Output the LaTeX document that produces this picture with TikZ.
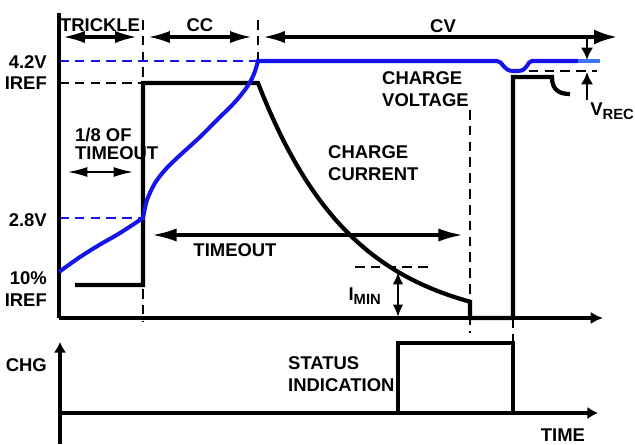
\documentclass[tikz,border=0pt]{standalone}
\usepackage{fontspec}
\setmainfont{Liberation Sans}
\usetikzlibrary{arrows.meta}
\definecolor{cvblue}{RGB}{20,20,235}
\definecolor{recblue}{RGB}{60,120,245}
\newcommand{\subtag}[1]{\raisebox{-0.22em}{\fontsize{8.4}{9}\selectfont #1}}

\tikzset{
  axis/.style={line width=2pt},
  wave/.style={line width=2.4pt},
  vcurve/.style={cvblue, line width=2.3pt},
  guide/.style={line width=1pt, dash pattern=on 5.5pt off 3.5pt},
  level/.style={line width=1.3pt, dash pattern=on 5.5pt off 3.5pt},
  span/.style={line width=1.8pt, {Latex[length=12.5pt,width=7pt]}-{Latex[length=12.5pt,width=7pt]}},
  longspan/.style={line width=1.8pt, {Latex[length=14pt,width=7.5pt]}-{Latex[length=14pt,width=7.5pt]}},
  tick/.style={line width=1.4pt, -{Latex[length=7pt,width=7pt]}},
}

\begin{document}
\begin{tikzpicture}[font=\fontsize{10.5}{12.5}\selectfont\bfseries]
  \useasboundingbox (-1.18,-2.52) rectangle (11.52,6.36);

  % phase borders
  \draw[guide] (1.68,5.96) -- (1.68,-0.08);
  \draw[guide] (3.98,5.96) -- (3.98,5.14);
  \draw[guide] (8.22,4.16) -- (8.22,-0.3);
  \draw[guide] (9.08,0) -- (9.08,-0.5);

  % phases
  \draw[span] (0.08,5.62) -- (1.56,5.62);
  \draw[span] (1.78,5.62) -- (3.86,5.62);
  \draw[line width=1.8pt, {Latex[length=12.5pt,width=7pt]}-{Latex[length=13pt,width=8.5pt]}] (4.08,5.62) -- (11.16,5.62);
  \node (trickle) at (0.82,5.86) {TRICKLE};
  \node (cc) at (2.82,5.86) {CC};
  \node (cv) at (7.68,5.84) {CV};

  % levels
  \draw[level, cvblue] (0,5.14) -- (3.98,5.14);
  \draw[level] (0,4.7) -- (1.68,4.7);
  \draw[level, cvblue] (0,2.0) -- (1.68,2.0);
  \draw[level] (5.92,1.02) -- (7.42,1.02);
  \draw[level] (9.08,4.94) -- (10.76,4.94);
  \node[anchor=east] (vfull) at (-0.12,5.11) {4.2V};
  \node[anchor=east] (ifull) at (-0.12,4.69) {IREF};
  \node[anchor=east] (vpre) at (-0.12,1.96) {2.8V};
  \node[anchor=east, align=right] (ipre) at (-0.12,0.58) {10\%\\IREF};

  % axes
  \draw[axis] (0,6.1) -- (0,0);
  \draw[axis, -{Latex[length=7pt,width=7pt]}] (0,0) -- (10.88,0);
  \draw[axis, -{Latex[length=6pt,width=7pt]}] (0.02,-2.52) -- (0.02,-0.48);
  \draw[axis, -{Latex[length=6pt,width=7pt]}] (-0.02,-1.9) -- (10.78,-1.9);

  % charge current
  \draw[wave] (0.32,0.66) -- (1.68,0.66) -- (1.68,4.7) -- (3.98,4.7)
    -- plot[domain=3.98:8.22, samples=40] (\x, {-0.2+4.9*exp(-(\x-3.98)/1.9)})
    -- (8.22,0) -- (9.08,0) -- (9.08,4.82) -- (9.86,4.82)
    .. controls (9.86,4.56) and (10.0,4.48) .. (10.22,4.48);

  % charge voltage
  \draw[vcurve] plot[smooth] coordinates {(0,0.92) (0.42,1.22) (0.82,1.47) (1.22,1.7) (1.68,2.0)}
    -- plot[smooth] coordinates {(1.68,2.0) (1.76,2.36) (1.92,2.7) (2.12,2.96) (2.36,3.2) (2.82,3.62) (3.16,3.96) (3.52,4.32) (3.76,4.62) (3.9,4.88) (3.98,5.14)}
    -- (8.76,5.14) .. controls (8.88,5.14) and (8.88,4.94) .. (9.08,4.94) -- (9.18,4.94)
    .. controls (9.38,4.94) and (9.36,5.14) .. (9.46,5.14) -- (10.38,5.14);
  \draw[recblue, line width=2.3pt] (10.38,5.14) -- (10.82,5.14);

  \node[anchor=west, align=left] (eighth) at (0.2,3.48) {1/8 OF\\[-2pt]TIMEOUT};
  \draw[line width=0.9pt, {Latex[length=11pt,width=5.7pt]}-{Latex[length=11pt,width=5.7pt]}] (0.18,2.92) -- (1.48,2.92);
  \draw[longspan] (1.86,1.66) -- (8.08,1.66);
  \node (timeout) at (3.52,1.36) {TIMEOUT};
  \node[anchor=west, align=left] (ccur) at (5.26,3.1) {CHARGE\\CURRENT};
  \node[anchor=west, align=left] (cvolt) at (6.34,4.58) {CHARGE\\VOLTAGE};

  \draw[line width=1.4pt, {Latex[length=7pt,width=6pt]}-{Latex[length=7pt,width=6pt]}] (6.78,0.92) -- (6.78,0.02);
  \node[anchor=base east] (imin) at (6.56,0.36) {I\subtag{MIN}};

  \draw[tick] (10.56,5.62) -- (10.56,5.16);
  \draw[tick] (10.56,4.36) -- (10.56,4.92);
  \node[anchor=base west, inner sep=0pt] (vrec) at (10.62,4.06) {V\subtag{REC}};

  % status
  \draw[wave] (6.78,-1.9) -- (6.78,-0.5) -- (9.08,-0.5) -- (9.08,-1.9);
  \node[anchor=east] (chg) at (-0.12,-0.94) {CHG};
  \node[anchor=west, align=left] (status) at (4.46,-1.12) {STATUS\\INDICATION};
  \node (time) at (10.08,-2.35) {TIME};
\end{tikzpicture}
\end{document}
